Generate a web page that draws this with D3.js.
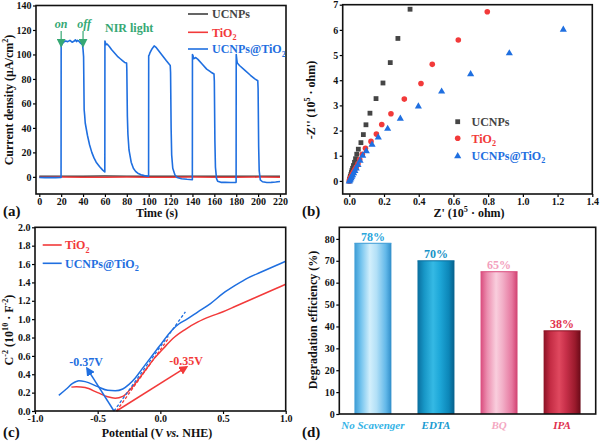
<!DOCTYPE html>
<html><head><meta charset="utf-8">
<script src="https://cdn.jsdelivr.net/npm/d3@7"></script>
<style>
body{margin:0;background:#fff}
svg{display:block}
text{font-family:"Liberation Serif","Times New Roman",serif;font-weight:bold}
</style>
</head><body>
<svg id="fig" width="600" height="443"></svg>
<script>
// ---------- DATA ----------
// (a) photocurrent
const timeTicks = [0,20,40,60,80,100,120,140,160,180,200,220];
const currentTicks = [0,20,40,60,80,100,120,140];
const blueT = [0,5,10,15,19.9,20,20.5,22,24,26,28,30,32,33,34,35,36,38,39.5,40,40.5,41,41.5,42,44,46,48,50,52,55,58,59.9,
  60,61,62,64,66,68,70,72,74,76,78,79.8,80,80.5,81,82,84,86,88,90,93,96,99.9,
  100,100.5,101,103,105,107,110,113,116,119.7,120,120.5,121,122,124,126,130,135,139.9,
  140,140.5,141,143,145,149,153,157,159.7,160,160.5,161,162,163,166,170,175,179.9,
  180,180.5,181,183,188,193,197,199.7,200,200.5,201,202,204,208,212,216,220];
const blueI = [-0.5,-0.6,-0.5,-0.6,-0.5,107,108,110,111,110.5,111.5,110,111,112,110.5,111.5,111,109,108,104,98,55,50,44,34,26,20,15.5,12,8.5,5.5,4,
  111,108,108.5,106.5,104,102,100,98,96.5,95,93.5,93,88,50,35,22,12,7,4.5,3,1.8,1,0.5,
  99,99.5,101,104.5,107,105.5,102,98.5,95,91,85,40,18,7,1.5,-0.5,-1.5,-2,-2.3,
  100,99,96.5,97.5,96,92,88,85.5,84,78,30,8,-1.5,-3.5,-4.5,-4.5,-4.6,-4.5,
  100,96,93,91,87,83,80,78.5,72,25,5,-2.5,-4,-4.6,-4.5,-4.2,-3.8];
const flatT = [0,20,40,60,80,100,120,140,160,180,200,220];
const ucnpsI = [0.5,0.6,0.5,0.7,0.6,0.5,0.6,0.5,0.6,0.5,0.6,0.5];
const tio2I = [-0.3,-0.2,-0.3,-0.3,-0.2,-0.3,-0.3,-0.2,-0.3,-0.3,-0.2,-0.3];
const seriesNames = ["UCNPs","TiO2","UCNPs@TiO2"];

// (b) Nyquist
const zTicksX = [0,0.2,0.4,0.6,0.8,1.0,1.2,1.4];
const zTicksY = [0,1,2,3,4,5,6,7];
const ucnpsRe = [0,0.002,0.004,0.006,0.009,0.012,0.015,0.019,0.024,0.03,0.036,0.043,0.052,0.067,0.081,0.096,0.119,0.154,0.194,0.236,0.28,0.35];
const ucnpsIm = [0,0.06,0.12,0.18,0.25,0.33,0.41,0.5,0.61,0.74,0.88,1.06,1.26,1.52,1.84,2.23,2.69,3.27,3.89,4.70,5.66,6.82];
const tio2Re = [0,0.003,0.006,0.01,0.014,0.019,0.025,0.032,0.04,0.05,0.06,0.075,0.093,0.125,0.156,0.187,0.24,0.317,0.413,0.478,0.628,0.795];
const tio2Im = [0,0.05,0.1,0.15,0.21,0.28,0.36,0.45,0.55,0.68,0.85,1.06,1.3,1.57,1.86,2.24,2.67,3.25,3.87,4.63,5.6,6.72];
const compRe = [0,0.003,0.006,0.01,0.014,0.019,0.025,0.032,0.04,0.05,0.062,0.077,0.098,0.131,0.167,0.221,0.294,0.398,0.532,0.699,0.922,1.233];
const compIm = [0,0.04,0.08,0.13,0.19,0.25,0.33,0.42,0.52,0.65,0.82,1.02,1.2,1.46,1.75,2.09,2.49,2.98,3.57,4.26,5.09,6.03];

// (c) Mott-Schottky
const potTicks = [-1,-0.5,0,0.5,1];
const msTicks = [0,0.2,0.4,0.6,0.8,1.0,1.2,1.4,1.6,1.8,2.0];
const tio2V = [-0.71,-0.67,-0.6,-0.5,-0.42,-0.36,-0.3,-0.25,-0.2,-0.15,-0.1,-0.05,0,0.05,0.1,0.2,0.3,0.4,0.5,0.6,0.7,0.8,0.9,1.0];
const tio2C = [0.26,0.265,0.255,0.2,0.155,0.14,0.16,0.22,0.3,0.39,0.48,0.57,0.645,0.72,0.79,0.89,0.97,1.03,1.08,1.14,1.2,1.26,1.32,1.38];
const compV = [-0.81,-0.75,-0.7,-0.65,-0.6,-0.5,-0.42,-0.36,-0.3,-0.25,-0.2,-0.15,-0.1,-0.05,0,0.05,0.1,0.15,0.2,0.3,0.4,0.5,0.6,0.7,0.8,0.9,1.0];
const compC = [0.17,0.24,0.3,0.33,0.32,0.265,0.225,0.22,0.24,0.29,0.36,0.45,0.54,0.63,0.72,0.81,0.89,0.95,0.99,1.08,1.17,1.28,1.37,1.45,1.51,1.57,1.63];
const flatband = [-0.35,-0.37]; // TiO2, UCNPs@TiO2
const tangentEnd = [[0.07,0.8],[0.2,1.08]];

// (d) scavengers
const scavengers = ["No Scavenger","EDTA","BQ","IPA"];
const efficiency = [78,70,65,38];
const effTicks = [0,10,20,30,40,50,60,70,80];

// ---------- DRAWING ----------
const svg = d3.select("#fig");
const defs = svg.append("defs");
const C = {gray:"#3f3f3f", red:"#f23a3a", blue:"#1f6fe0", green:"#36a874"};

function rich(t, parts, fs){
  let off = 0;
  parts.forEach(([txt,type])=>{
    const ts = t.append("tspan").text(txt);
    const target = type==="sup" ? -fs*0.38 : type==="sub" ? fs*0.28 : 0;
    ts.attr("dy", target-off); off = target;
    if(type==="sup"||type==="sub") ts.attr("font-size", fs*0.68);
    if(type==="i") ts.attr("font-style","italic");
  });
}

function frame(x, y, xt, yt, fmtX, fmtY){
  const [x0,x1] = x.range(), [y0,y1] = y.range();
  const gx = svg.append("g").attr("transform",`translate(0,${y0})`)
    .call(d3.axisBottom(x).tickValues(xt).tickFormat(fmtX).tickSize(3).tickPadding(0.5));
  const gy = svg.append("g").attr("transform",`translate(${x0},0)`)
    .call(d3.axisLeft(y).tickValues(yt).tickFormat(fmtY).tickSize(3).tickPadding(1.5));
  [gx,gy].forEach(g=>{
    g.select(".domain").remove();
    g.selectAll("line").attr("stroke","#000").attr("stroke-width",1.2);
    g.selectAll("text").attr("font-size",10).attr("font-family","Liberation Serif").attr("font-weight","bold").attr("fill","#111");
  });
  svg.append("rect").attr("x",x0).attr("y",y1).attr("width",x1-x0).attr("height",y0-y1)
    .attr("fill","none").attr("stroke","#111").attr("stroke-width",1.6);
}

function marker(id, color){
  defs.append("marker").attr("id",id).attr("viewBox","0 0 10 10").attr("refX",8).attr("refY",5)
    .attr("markerWidth",9).attr("markerHeight",9).attr("orient","auto-start-reverse")
    .attr("markerUnits","userSpaceOnUse")
    .append("path").attr("d","M0,0 L10,5 L0,10 z").attr("fill",color);
}
marker("arG", C.green); marker("arB", C.blue); marker("arR", C.red);

// ===== (a) =====
{
  const x = d3.scaleLinear().domain([-3,225.5]).range([36,286]);
  const y = d3.scaleLinear().domain([-14,140]).range([194,5.5]);
  defs.append("clipPath").attr("id","clipA").append("rect")
    .attr("x",36).attr("y",5.5).attr("width",250).attr("height",188.5);
  const line = d3.line().x(d=>x(d[0])).y(d=>y(d[1]));
  const g = svg.append("g").attr("clip-path","url(#clipA)");
  g.append("path").datum(flatT.map((t,i)=>[t,ucnpsI[i]])).attr("d",line).attr("fill","none").attr("stroke",C.gray).attr("stroke-width",1.5);
  g.append("path").datum(flatT.map((t,i)=>[t,tio2I[i]])).attr("d",line).attr("fill","none").attr("stroke",C.red).attr("stroke-width",1.5);
  g.append("path").datum(blueT.map((t,i)=>[t,blueI[i]])).attr("d",line).attr("fill","none").attr("stroke",C.blue).attr("stroke-width",1.6).attr("stroke-linejoin","round");
  frame(x,y,timeTicks,currentTicks,d3.format("d"),d3.format("d"));
  // legend
  const cols=[C.gray,C.red,C.blue], rows=[14,32.3,49];
  const labs=[[["UCNPs",""]],[["TiO",""],["2","sub"]],[["UCNPs@TiO",""],["2","sub"]]];
  rows.forEach((ry,i)=>{
    svg.append("line").attr("x1",188).attr("x2",208).attr("y1",ry).attr("y2",ry).attr("stroke",cols[i]).attr("stroke-width",1.6);
    const t = svg.append("text").attr("x",212).attr("y",ry+4.3).attr("font-size",12).attr("fill",i===0?"#444":cols[i]);
    rich(t,labs[i],12);
  });
  // annotations
  svg.append("text").attr("x",x(20)).attr("y",28).attr("text-anchor","middle").attr("font-size",12).attr("font-style","italic").attr("fill",C.green).text("on");
  svg.append("text").attr("x",x(40)+1).attr("y",28).attr("text-anchor","middle").attr("font-size",12).attr("font-style","italic").attr("fill",C.green).text("off");
  [20,40].forEach(t=>svg.append("line").attr("x1",x(t)).attr("x2",x(t)).attr("y1",31).attr("y2",46)
    .attr("stroke",C.green).attr("stroke-width",1.2).attr("marker-end","url(#arG)"));
  svg.append("text").attr("x",105).attr("y",32).attr("font-size",12).attr("fill",C.green).text("NIR light");
  // axis titles
  svg.append("text").attr("x",157).attr("y",216.5).attr("text-anchor","middle").attr("font-size",12).attr("fill","#111").text("Time (s)");
  const ty = svg.append("text").attr("transform","translate(13,100) rotate(-90)").attr("text-anchor","middle").attr("font-size",12).attr("fill","#111");
  rich(ty,[["Current density (μA/cm",""],["2","sup"],[")",""]],12);
  svg.append("text").attr("x",3).attr("y",216).attr("font-size",15).attr("fill","#111").text("(a)");
}

// ===== (b) =====
{
  const x = d3.scaleLinear().domain([-0.038,1.4]).range([342.7,592.3]);
  const y = d3.scaleLinear().domain([-0.52,7]).range([194,4.7]);
  const g = svg.append("g");
  const pts = (re,im)=>re.map((v,i)=>[v,im[i]]);
  g.selectAll(".sq").data(pts(ucnpsRe,ucnpsIm)).join("rect")
    .attr("x",d=>x(d[0])-2.4).attr("y",d=>y(d[1])-2.4).attr("width",4.8).attr("height",4.8).attr("fill","#454545");
  g.selectAll(".ci").data(pts(tio2Re,tio2Im)).join("circle")
    .attr("cx",d=>x(d[0])).attr("cy",d=>y(d[1])).attr("r",2.8).attr("fill",C.red);
  const tri = d3.symbol().type(d3.symbolTriangle).size(22);
  g.selectAll(".tr").data(pts(compRe,compIm)).join("path")
    .attr("transform",d=>`translate(${x(d[0])},${y(d[1])+0.5})`).attr("d",tri).attr("fill",C.blue);
  frame(x,y,zTicksX,zTicksY,d3.format(".1f"),d3.format("d"));
  // legend
  const rows=[121.7,138.3,155.7];
  svg.append("rect").attr("x",455.3).attr("y",rows[0]-2.4).attr("width",4.8).attr("height",4.8).attr("fill","#454545");
  svg.append("circle").attr("cx",457.7).attr("cy",rows[1]).attr("r",2.8).attr("fill",C.red);
  svg.append("path").attr("transform",`translate(457.7,${rows[2]+0.5})`).attr("d",tri).attr("fill",C.blue);
  const labs=[[["UCNPs",""]],[["TiO",""],["2","sub"]],[["UCNPs@TiO",""],["2","sub"]]];
  const cols=["#444",C.red,C.blue];
  rows.forEach((ry,i)=>{
    const t=svg.append("text").attr("x",471.5).attr("y",ry+4.3).attr("font-size",12).attr("fill",cols[i]);
    rich(t,labs[i],12);
  });
  const tx = svg.append("text").attr("x",469).attr("y",217).attr("text-anchor","middle").attr("font-size",12).attr("fill","#111");
  rich(tx,[["Z' (10",""],["5","sup"],[" · ohm)",""]],12);
  const ty = svg.append("text").attr("transform","translate(315,100) rotate(-90)").attr("text-anchor","middle").attr("font-size",12).attr("fill","#111");
  rich(ty,[["-Z'' (10",""],["5","sup"],[" · ohm)",""]],12);
  svg.append("text").attr("x",302).attr("y",216).attr("font-size",15).attr("fill","#111").text("(b)");
}

// ===== (c) =====
{
  const x = d3.scaleLinear().domain([-1,1]).range([35,285.7]);
  const y = d3.scaleLinear().domain([0,2]).range([411,227.3]);
  const line = d3.line().x(d=>x(d[0])).y(d=>y(d[1])).curve(d3.curveMonotoneX);
  svg.append("path").datum(tio2V.map((v,i)=>[v,tio2C[i]])).attr("d",line).attr("fill","none").attr("stroke",C.red).attr("stroke-width",1.5);
  svg.append("path").datum(compV.map((v,i)=>[v,compC[i]])).attr("d",line).attr("fill","none").attr("stroke",C.blue).attr("stroke-width",1.5);
  // tangents
  const cols=[C.red,C.blue];
  flatband.forEach((v,i)=>{
    svg.append("line").attr("x1",x(v)).attr("y1",y(0)).attr("x2",x(tangentEnd[i][0])).attr("y2",y(tangentEnd[i][1]))
      .attr("stroke",cols[i]).attr("stroke-width",1.3).attr("stroke-dasharray","3,2");
  });
  // arrows
  svg.append("line").attr("x1",x(-0.37)).attr("y1",y(0)).attr("x2",x(-0.585)).attr("y2",y(0.465))
    .attr("stroke",C.blue).attr("stroke-width",1.5).attr("marker-end","url(#arB)");
  svg.append("line").attr("x1",x(-0.35)).attr("y1",y(0)).attr("x2",x(0.21)).attr("y2",y(0.48))
    .attr("stroke",C.red).attr("stroke-width",1.5).attr("marker-end","url(#arR)");
  svg.append("text").attr("x",86).attr("y",366).attr("text-anchor","middle").attr("font-size",12).attr("fill",C.blue).text(flatband[1].toFixed(2)+"V");
  svg.append("text").attr("x",186).attr("y",365).attr("text-anchor","middle").attr("font-size",12).attr("fill",C.red).text(flatband[0].toFixed(2)+"V");
  frame(x,y,potTicks,msTicks,d=>d.toFixed(1),d=>d.toFixed(1));
  // legend
  [[245,C.red,[["TiO",""],["2","sub"]]],[263.3,C.blue,[["UCNPs@TiO",""],["2","sub"]]]].forEach(([ry,c,l])=>{
    svg.append("line").attr("x1",42.7).attr("x2",61.7).attr("y1",ry).attr("y2",ry).attr("stroke",c).attr("stroke-width",1.6);
    const t=svg.append("text").attr("x",65).attr("y",ry+4.3).attr("font-size",12).attr("fill",c);
    rich(t,l,12);
  });
  const tx = svg.append("text").attr("x",157).attr("y",436.5).attr("text-anchor","middle").attr("font-size",12).attr("fill","#111");
  rich(tx,[["Potential (V ",""],["vs.","i"],[" NHE)",""]],12);
  const ty = svg.append("text").attr("transform","translate(13,330) rotate(-90)").attr("text-anchor","middle").attr("font-size",12).attr("fill","#111");
  rich(ty,[["C",""],["-2","sup"],[" (10",""],["10","sup"],[" · F",""],["-2","sup"],[")",""]],12);
  svg.append("text").attr("x",3).attr("y",437).attr("font-size",15).attr("fill","#111").text("(c)");
}

// ===== (d) =====
{
  const x = d3.scaleBand().domain(scavengers).range([339.3,595.7]).paddingInner(0.414).paddingOuter(0.24);
  const y = d3.scaleLinear().domain([0,85.3]).range([414,227.3]);
  const stops = [
    ['#3a9ad4','#74c4ee','#d2effc','#b2e0f7','#62b8e9','#2f8dc9'],
    ['#0a6e9e','#1796c6','#35b9e4','#1ea8d9','#0c86b8','#075f8a'],
    ['#d94a7c','#ec8fb0','#f9cedd','#f2aec7','#e6779f','#d14070'],
    ['#8a1224','#c42c44','#e0485f','#c8304a','#9a1a2c','#6a0a18']
  ];
  const offs=[0,0.18,0.42,0.6,0.85,1];
  stops.forEach((s,i)=>{
    const lg=defs.append("linearGradient").attr("id","bg"+i).attr("x1","0").attr("x2","1").attr("y1","0").attr("y2","0");
    s.forEach((c,j)=>lg.append("stop").attr("offset",offs[j]).attr("stop-color",c));
  });
  const labCol=['#2aa6dc','#1792c6','#f3a0bd','#e2334f'];
  const catCol=['#33b3e6','#189ad0','#f4a8c2','#e0304e'];
  svg.selectAll(".bar").data(scavengers).join("rect")
    .attr("x",d=>x(d)).attr("width",x.bandwidth())
    .attr("y",(d,i)=>y(efficiency[i])).attr("height",(d,i)=>y(0)-y(efficiency[i]))
    .attr("fill",(d,i)=>`url(#bg${i})`);
  svg.selectAll(".bl").data(scavengers).join("line")
    .attr("x1",d=>x(d)).attr("x2",d=>x(d)+x.bandwidth())
    .attr("y1",(d,i)=>y(efficiency[i])).attr("y2",(d,i)=>y(efficiency[i]))
    .attr("stroke",(d,i)=>stops[i][0]).attr("stroke-width",1);
  svg.selectAll(".vl").data(scavengers).join("text")
    .attr("x",d=>x(d)+x.bandwidth()/2).attr("y",(d,i)=>y(efficiency[i])-2.5)
    .attr("text-anchor","middle").attr("font-size",12).attr("fill",(d,i)=>labCol[i])
    .text((d,i)=>efficiency[i]+"%");
  frame(x,y,[],effTicks,d=>d,d3.format("d"));
  svg.selectAll(".cl").data(scavengers).join("text")
    .attr("x",d=>x(d)+x.bandwidth()/2).attr("y",429).attr("text-anchor","middle")
    .attr("font-size",11).attr("font-style","italic").attr("fill",(d,i)=>catCol[i]).text(d=>d);
  svg.append("text").attr("transform","translate(317,320) rotate(-90)").attr("text-anchor","middle").attr("font-size",12).attr("fill","#111").text("Degradation efficiency (%)");
  svg.append("text").attr("x",302).attr("y",437).attr("font-size",15).attr("fill","#111").text("(d)");
}
</script>
</body></html>
